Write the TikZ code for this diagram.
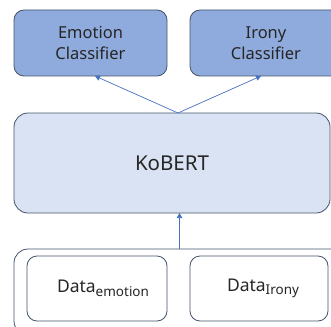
\documentclass[tikz,border=0pt]{standalone}
\usepackage{fontspec}
\setmainfont{Noto Sans}
\usetikzlibrary{arrows.meta}
\definecolor{clsfill}{HTML}{8FAADC}
\definecolor{bertfill}{HTML}{DAE3F3}
\definecolor{boxline}{HTML}{44546A}
\definecolor{arrowblue}{HTML}{4472C4}
\definecolor{txt}{HTML}{262626}
\newcommand{\datasub}[1]{Data\raisebox{-3.5pt}{\fontsize{13.5}{13.5}\selectfont #1}}
\begin{document}
\begin{tikzpicture}[x=1pt, y=-1pt, every node/.style={outer sep=0pt, inner sep=0pt, text=txt, align=center}, line join=round]
    \tikzset{
        clsbox/.style={draw=boxline, line width=0.8pt, fill=clsfill, rounded corners=10pt, font=\fontsize{16.5}{21.5}\selectfont},
        databox/.style={draw=boxline, line width=0.8pt, fill=white, rounded corners=10pt, font=\fontsize{17.5}{20}\selectfont},
        link/.style={draw=arrowblue, line width=0.7pt, -{Triangle[width=5.5pt, length=5pt]}}
    }
    \useasboundingbox (0, 0) rectangle (331, 326);
    \clip (0, 0) rectangle (331, 326);
    % classifiers
    \node[clsbox, minimum width=153pt, minimum height=66pt] (emo) at (90.5, 43) {Emotion\\Classifier};
    \node[clsbox, minimum width=152pt, minimum height=66pt] (iro) at (266, 43) {Irony\\Classifier};
    % encoder
    \node[draw=boxline, line width=0.8pt, fill=bertfill, rounded corners=14pt, minimum width=316pt, minimum height=100pt, font=\fontsize{20.5}{22}\selectfont] (bert) at (172, 163) {KoBERT};
    % inputs
    \node[draw=boxline, line width=0.8pt, fill=white, rounded corners=14pt, minimum width=331pt, minimum height=86pt] (inputs) at (179.5, 292) {};
    \node[databox, minimum width=140pt, minimum height=65pt] (demo) at (97, 288.5) {\hspace{12pt}\datasub{emotion}};
    \node[databox, minimum width=138pt, minimum height=65pt] (diro) at (259, 288.5) {\hspace{8pt}\datasub{Irony}};
    \draw[link] ([xshift=6pt]bert.north) -- ([xshift=4.5pt]emo.south);
    \draw[link] ([xshift=6pt]bert.north) -- ([xshift=-5pt]iro.south);
    \draw[link] (inputs.north) -- (inputs.north |- bert.south);
\end{tikzpicture}
\end{document}
